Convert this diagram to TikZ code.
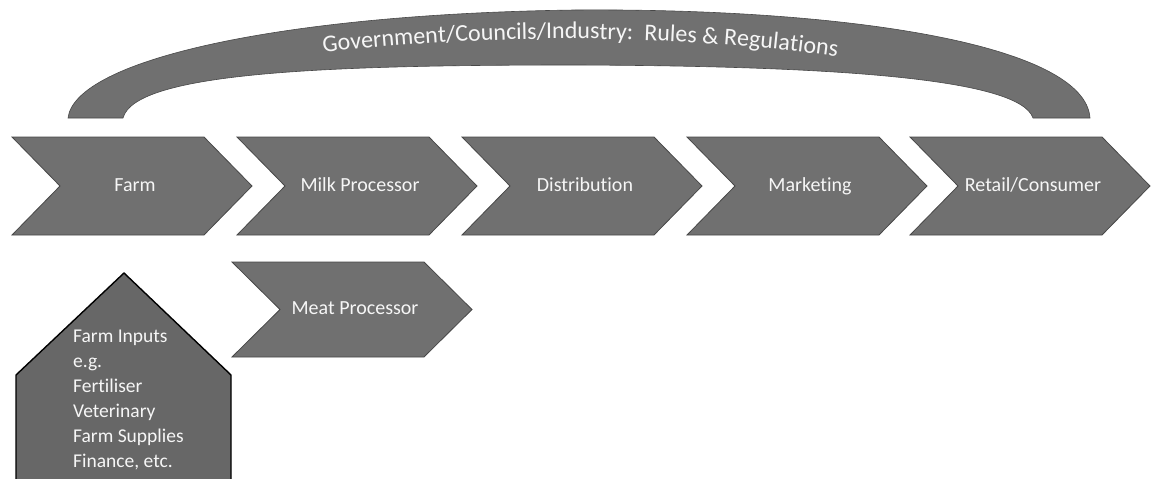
\documentclass[tikz,border=0pt]{standalone}
\usepackage{fontspec}
\setmainfont{Carlito}[Ligatures=NoCommon]
\usetikzlibrary{decorations.text}

\definecolor{bandgray}{RGB}{112,112,112}
\definecolor{edgegray}{RGB}{72,72,72}
\definecolor{labelwhite}{RGB}{246,246,246}

\tikzset{
  stage/.style={fill=bandgray, draw=edgegray, line width=0.8pt, line join=miter},
  stagelabel/.style={text=labelwhite, font=\fontsize{20}{23}\selectfont, inner sep=0pt,
    text height=10pt, text depth=0pt},
  inputbox/.style={fill=bandgray!92!black, draw=black, line width=1.4pt, line join=miter},
  arch/.style={fill=bandgray, draw=edgegray, line width=0.6pt},
}

% chevron: name, left x, top y, bottom y, label
\newcommand\valuestage[5]{%
  \path[stage] (#2,#3) -- (#2+192,#3) -- (#2+240,{(#3+#4)/2}) -- (#2+192,#4)
    -- (#2,#4) -- (#2+48,{(#3+#4)/2}) -- cycle;
  \node[stagelabel] (#1) at (#2+123,{(#3+#4)/2}) {#5};
}

\begin{document}
\begin{tikzpicture}[x=1pt,y=-1pt]
  \useasboundingbox (0,0) rectangle (1151,479);
  \clip (0,0) rectangle (1151,479);

  % overarching regulation band
  \path[arch] (68,118) .. controls (75,60) and (280,14) .. (575,10)
    .. controls (850,8) and (1085,45) .. (1090,118)
    -- (1033,118) .. controls (1020,80) and (850,66) .. (575,65)
    .. controls (330,65) and (135,72) .. (123,118) -- cycle;
  \path[decorate, decoration={text along path, text align=center,
      text={|\fontsize{24}{28}\selectfont\color{labelwhite}|Government/Councils/Industry:{\ }{\ }Rules {\&} Regulations}}]
    (290,57) .. controls (470,32) and (690,32) .. (870,62);

  % main value chain
  \valuestage{farm}{12}{137}{235}{Farm}
  \valuestage{milk}{237}{137}{235}{Milk Processor}
  \valuestage{dist}{462}{137}{235}{Distribution}
  \valuestage{mark}{687}{137}{235}{Marketing}
  \valuestage{retail}{910}{137}{235}{Retail/Consumer}

  % secondary processor
  \valuestage{meat}{232}{262}{357}{Meat Processor}

  % farm inputs block
  \path[inputbox] (16,495) -- (16,375) -- (124,273) -- (231,375) -- (231,495) -- cycle;
  \node[text=labelwhite, font=\fontsize{19.5}{25}\selectfont, align=left,
        inner sep=0pt, anchor=north west] (inputs) at (73,330)
    {Farm Inputs\\e.g.\\Fertiliser\\Veterinary\\Farm Supplies\\Finance, etc.};
\end{tikzpicture}
\end{document}
